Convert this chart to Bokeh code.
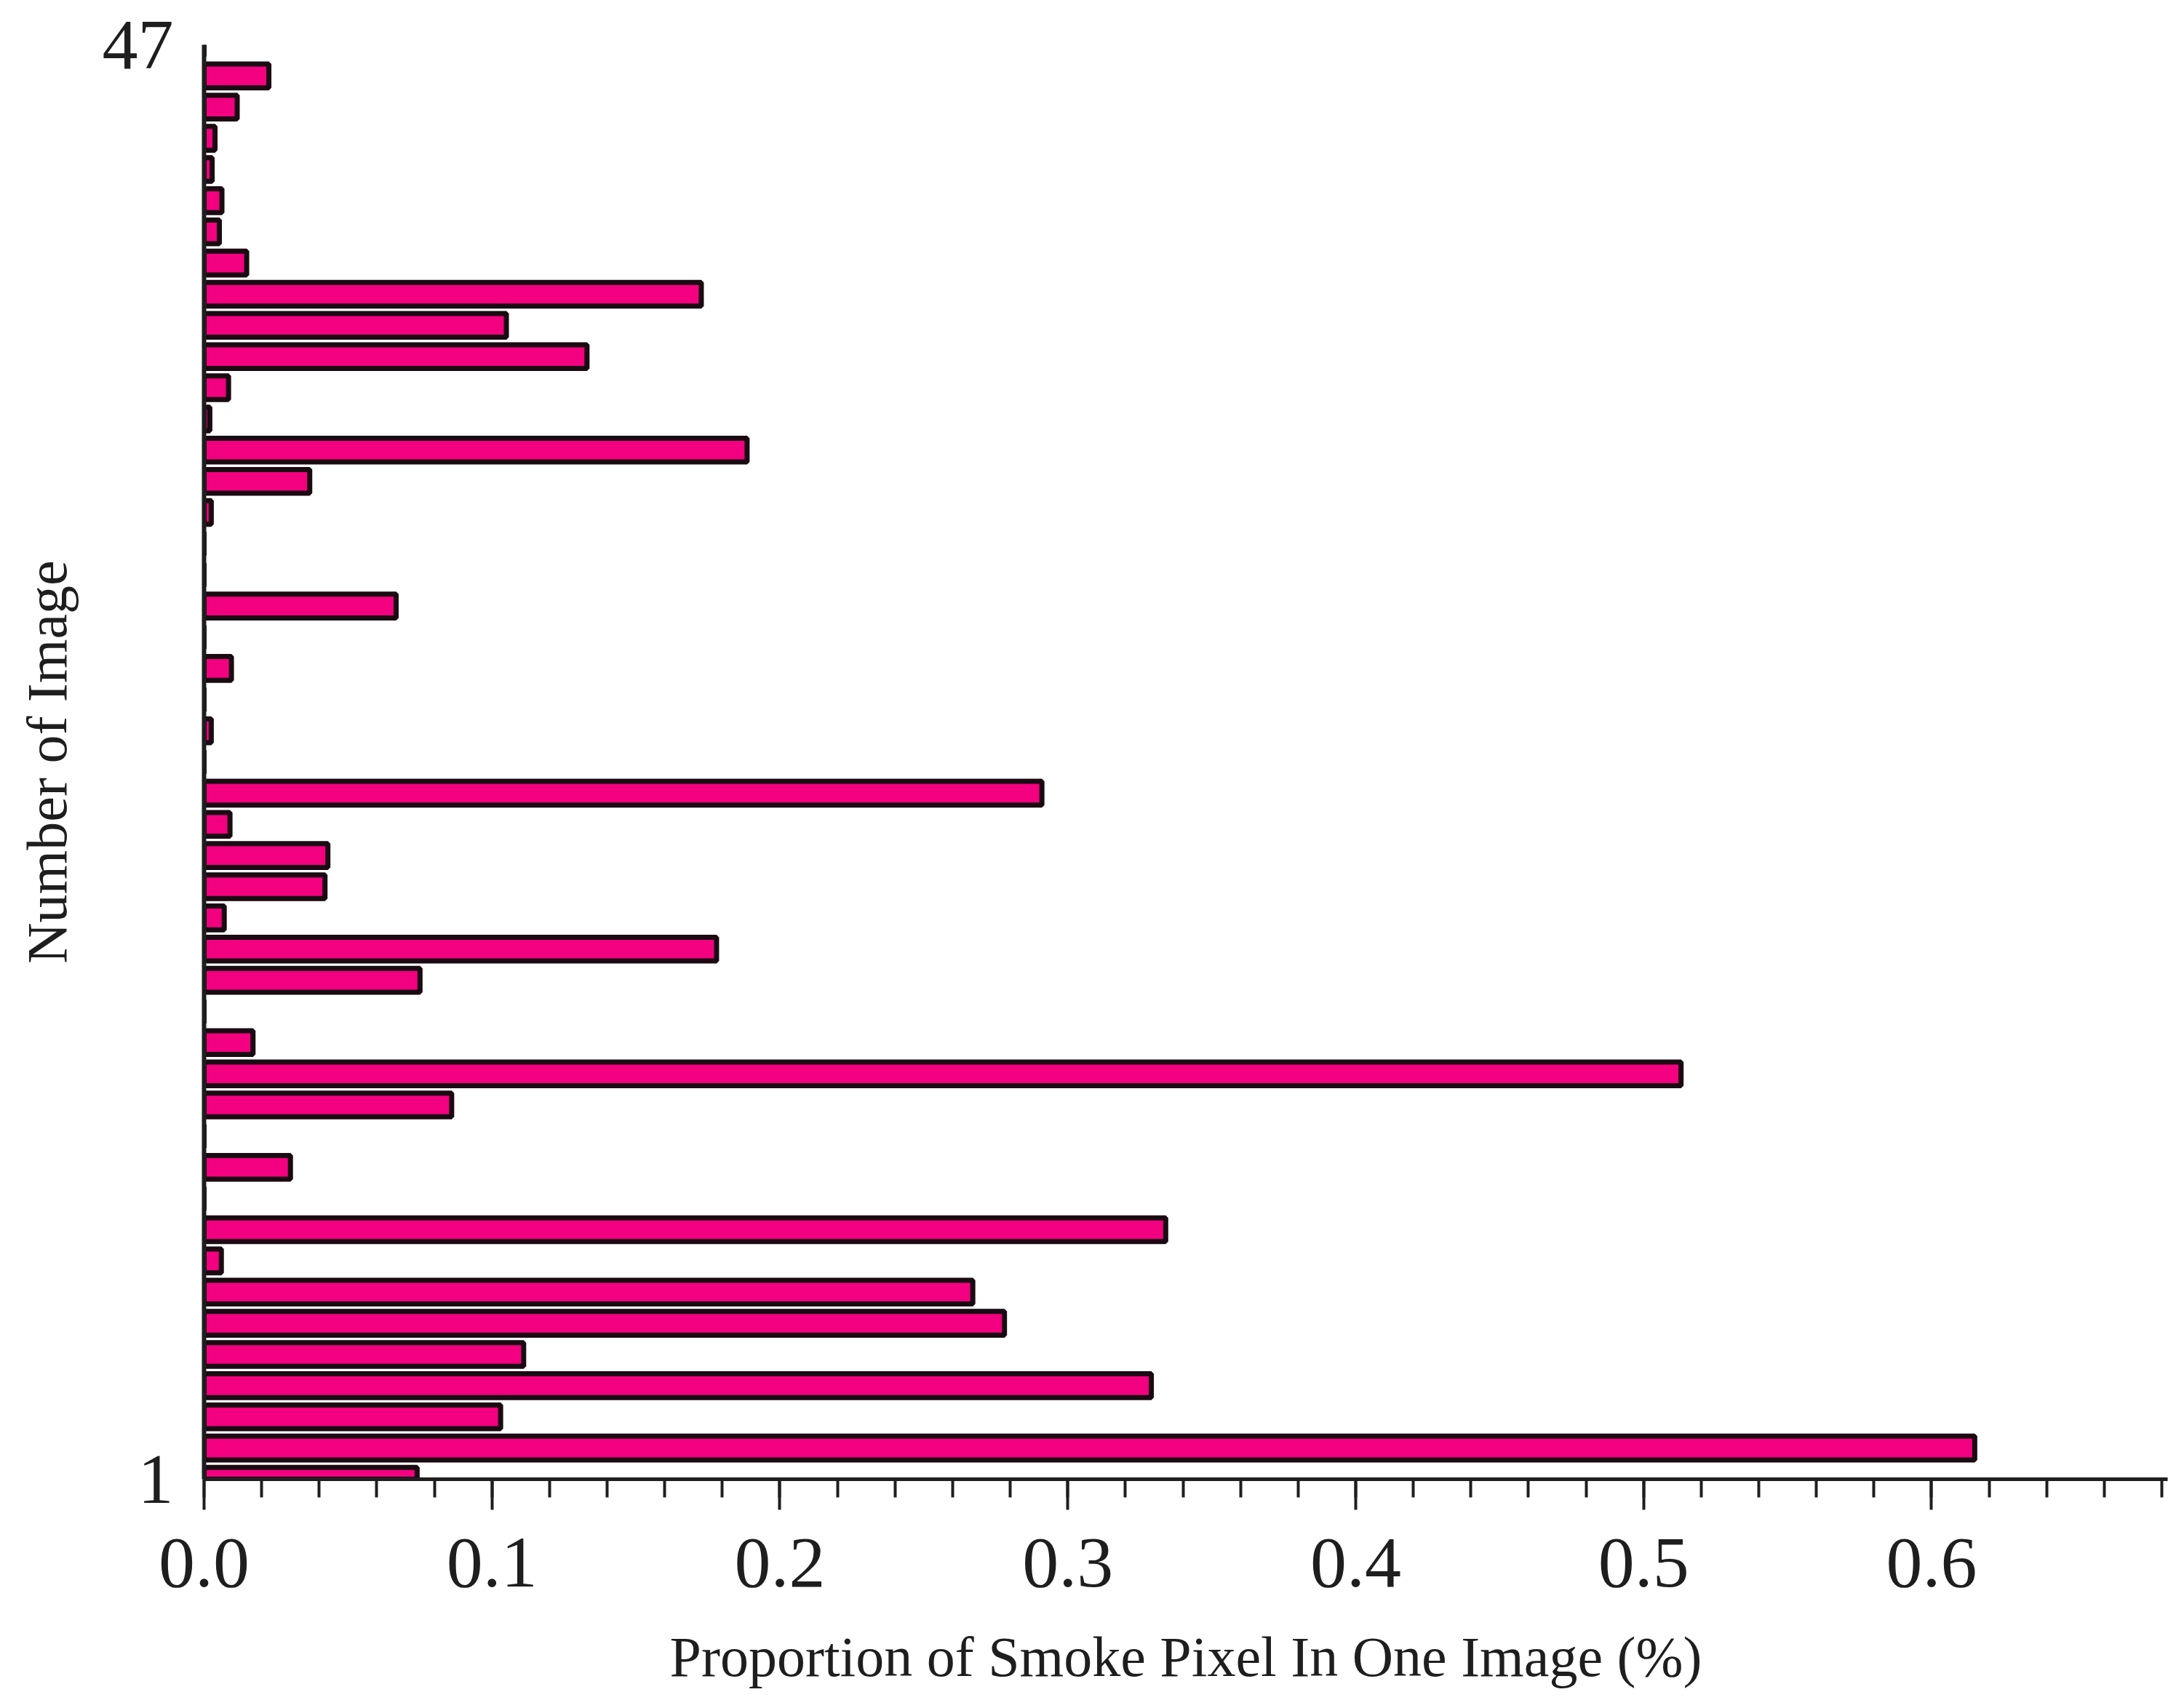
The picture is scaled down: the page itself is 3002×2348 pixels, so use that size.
from bokeh.plotting import figure
from bokeh.models import Range1d, SingleIntervalTicker, FixedTicker, PrintfTickFormatter
from bokeh.embed import file_html
from bokeh.resources import INLINE

# Image numbers (1 at the bottom, 47 at the top)
images = list(range(1, 48))
# Proportion of smoke pixels (%) for each image
proportion = [
    0.074, 0.615, 0.103, 0.329, 0.111, 0.278, 0.267, 0.006, 0.334, 0.0,
    0.030, 0.0, 0.086, 0.513, 0.017, 0.0, 0.075, 0.178, 0.007, 0.042,
    0.043, 0.009, 0.291, 0.0, 0.0025, 0.0, 0.0095, 0.0, 0.0667, 0.0,
    0.0, 0.0025, 0.0367, 0.1886, 0.002, 0.0085, 0.133, 0.105, 0.1727, 0.0148,
    0.0053, 0.0062, 0.0028, 0.0038, 0.0115, 0.0225, 0.0,
]
x_ticks_interval = 0.1
y_tick_values = [1, 47]

FONT = "Liberation Serif"
INK = "#1e1e1e"

p = figure(
    width=2986, height=2332,
    x_range=Range1d(0, 0.682), y_range=Range1d(1, 47),
    output_backend="svg", toolbar_location=None,
    min_border_left=280, min_border_right=7,
    min_border_top=61, min_border_bottom=299,
    background_fill_color="white", border_fill_color="white",
)

p.hbar(y=images, left=0, right=proportion, height=0.76,
       fill_color="#F2007F", line_color="#1a0a12", line_width=7)

p.xgrid.visible = False
p.ygrid.visible = False
p.outline_line_color = None

# X axis
xa = p.xaxis[0]
xa.ticker = SingleIntervalTicker(interval=x_ticks_interval, num_minor_ticks=5)
xa.formatter = PrintfTickFormatter(format="%.1f")
xa.axis_label = "Proportion of Smoke Pixel In One Image (%)"
xa.axis_label_text_font = FONT
xa.axis_label_text_font_size = "78px"
xa.axis_label_text_font_style = "normal"
xa.axis_label_text_color = INK
xa.axis_label_standoff = 50
xa.major_label_text_font = FONT
xa.major_label_text_font_size = "100px"
xa.major_label_text_color = INK
xa.major_label_standoff = 40
xa.axis_line_width = 5
xa.axis_line_color = INK
xa.major_tick_line_width = 4
xa.major_tick_line_color = INK
xa.minor_tick_line_width = 4
xa.minor_tick_line_color = INK
xa.major_tick_in = 0
xa.major_tick_out = 42
xa.minor_tick_in = 0
xa.minor_tick_out = 25

# Y axis
ya = p.yaxis[0]
ya.ticker = FixedTicker(ticks=y_tick_values, minor_ticks=[])
ya.axis_label = "Number of Image"
ya.axis_label_text_font = FONT
ya.axis_label_text_font_size = "78px"
ya.axis_label_text_font_style = "normal"
ya.axis_label_text_color = INK
ya.axis_label_standoff = 30
ya.major_label_text_font = FONT
ya.major_label_text_font_size = "98px"
ya.major_label_text_color = INK
ya.major_label_standoff = 42
ya.axis_line_width = 6
ya.axis_line_color = INK
ya.major_tick_in = 0
ya.major_tick_out = 0
ya.minor_tick_in = 0
ya.minor_tick_out = 0

open("out.html", "w").write(file_html(p, INLINE))
